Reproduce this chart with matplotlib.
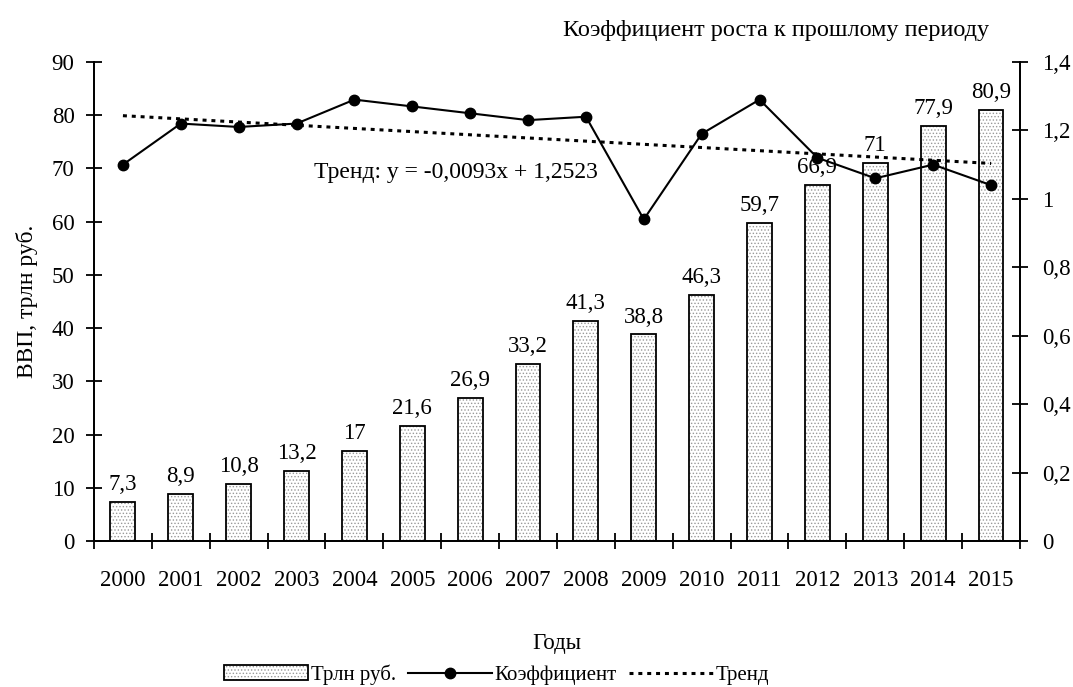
import matplotlib.pyplot as plt
import numpy as np

plt.rcParams['font.family'] = ['Liberation Serif', 'DejaVu Serif']
plt.rcParams['hatch.linewidth'] = 0.6

years = ['2000', '2001', '2002', '2003', '2004', '2005', '2006', '2007',
         '2008', '2009', '2010', '2011', '2012', '2013', '2014', '2015']
gdp = [7.3, 8.9, 10.8, 13.2, 17, 21.6, 26.9, 33.2,
       41.3, 38.8, 46.3, 59.7, 66.9, 71, 77.9, 80.9]
coef = [1.10, 1.22, 1.21, 1.22, 1.29, 1.27, 1.25, 1.23,
        1.24, 0.94, 1.19, 1.29, 1.12, 1.06, 1.10, 1.04]
trend_k = -0.0093
trend_b = 1.2523

FS = 16.5


def fmt(v):
    s = ('%g' % v).replace('.', ',')
    return s


fig = plt.figure(figsize=(10.73, 6.87), dpi=100)
ax = fig.add_axes([0.0876, 0.2125, 0.863, 0.6973])
ax2 = ax.twinx()

x = np.arange(len(years))
# bars: hatched fill, then black outline
hatched = ax.bar(x, gdp, width=0.43, color='white', edgecolor='#999999', hatch='.....', linewidth=0)
bars = ax.bar(x, gdp, width=0.43, color='none', edgecolor='black', linewidth=1.3, label='Трлн руб.')
for xi, v in zip(x, gdp):
    ax.annotate(fmt(v), (xi, v), xytext=(0, 5), textcoords='offset points',
                ha='center', va='bottom', fontsize=FS)

ax.set_xlim(-0.5, len(years) - 0.5)
ax.set_ylim(0, 90)
ax.set_yticks(range(0, 91, 10))
ax.set_xticks(x)
ax.set_xticklabels(years, fontsize=FS)
ax.set_xticks(np.arange(-0.5, len(years), 1), minor=True)
ax.tick_params(axis='x', which='major', length=0, pad=21)
ax.tick_params(axis='x', which='minor', direction='inout', length=12, width=1.3)
ax.tick_params(axis='y', direction='inout', length=12, width=1.3, labelsize=FS, pad=8)
ax.set_ylabel('ВВП, трлн руб.', fontsize=FS + 0.5, labelpad=10)
ax.set_xlabel('Годы', fontsize=FS, labelpad=30)

trend_x = np.arange(1, len(years) + 1)
ln1, = ax2.plot(x, coef, color='black', marker='o', markersize=7.5, linewidth=1.5,
                label='Коэффициент')
ln2, = ax2.plot(x, trend_k * trend_x + trend_b, color='black', linewidth=2.2,
                linestyle=(0, (1.3, 1.6)), label='Тренд')
ax2.set_ylim(0, 1.4)
rticks = np.arange(0, 1.41, 0.2)
ax2.set_yticks(rticks)
ax2.set_yticklabels([fmt(round(t, 1)) for t in rticks])
ax2.tick_params(axis='y', direction='inout', length=12, width=1.3, labelsize=FS, pad=10)

ax2.text(8.2, 1.076, 'Тренд: y = -0,0093x + 1,2523', ha='right', va='center', fontsize=FS + 0.5)

for a in (ax, ax2):
    a.spines['top'].set_visible(False)
    for s in ('left', 'right', 'bottom'):
        a.spines[s].set_linewidth(1.3)

fig.text(0.922, 0.955, 'Коэффициент роста к прошлому периоду', ha='right', va='center', fontsize=FS + 1)

fig.legend(handles=[(hatched, bars), ln1, ln2], labels=['Трлн руб.', 'Коэффициент', 'Тренд'],
           loc='center', bbox_to_anchor=(0.463, 0.018),
           ncol=3, frameon=False, fontsize=FS - 1.5, handlelength=4.0, handletextpad=0.15,
           columnspacing=0.6)

fig.savefig('out.png', dpi=100)
